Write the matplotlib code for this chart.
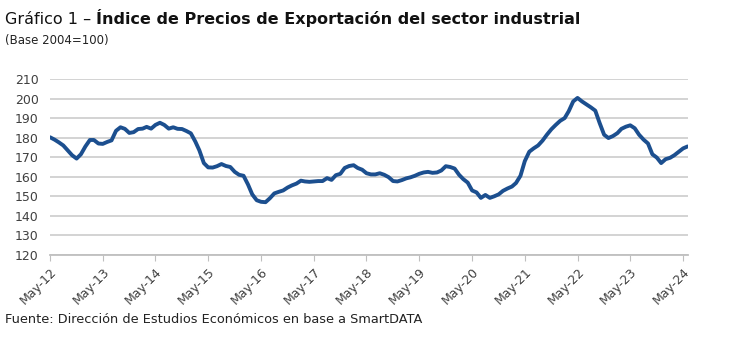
import pandas as pd
import matplotlib.pyplot as plt
import matplotlib.dates as mdates

plt.rcParams['font.family'] = ['DejaVu Sans']

# monthly index, May-2012 .. Jun-2024
start_month = "2012-05-01"
ipx_values = [
    180.2, 179.0, 177.6, 176.0, 173.5, 171.0, 169.3, 171.5, 175.5, 178.8,
    178.8, 177.0, 176.8, 177.8, 178.6, 183.5, 185.3, 184.5, 182.4, 182.8,
    184.4, 184.6, 185.5, 184.6, 186.5, 187.6, 186.5, 184.6, 185.3, 184.5,
    184.4, 183.4, 182.2, 178.0, 173.5, 167.0, 164.8, 164.7, 165.4, 166.5,
    165.5, 165.0, 162.5, 161.0, 160.5, 156.0, 151.0, 148.0, 147.2, 147.0,
    149.0, 151.5, 152.3, 153.0, 154.5, 155.6, 156.5, 158.0, 157.6, 157.4,
    157.6, 157.8, 157.8, 159.3, 158.4, 160.8, 161.5, 164.5, 165.5, 165.9,
    164.5, 163.6, 161.8, 161.2, 161.2, 161.8, 161.0, 159.8, 157.8, 157.6,
    158.3, 159.2, 159.7, 160.5, 161.5, 162.2, 162.5, 162.0, 162.2, 163.2,
    165.4, 165.0, 164.2, 161.0, 158.8, 157.0, 153.0, 152.0, 149.2, 150.7,
    149.2, 150.0, 151.0, 152.8, 154.0, 155.0, 156.8, 160.5, 168.0, 172.8,
    174.5, 176.0, 178.5, 181.5, 184.3, 186.5, 188.6, 190.0, 193.5, 198.5,
    200.3, 198.5, 197.0, 195.5, 193.8, 187.5, 181.5, 179.8, 180.8, 182.3,
    184.5, 185.6, 186.3, 184.8, 181.5, 179.0, 177.0, 171.5, 169.8, 167.0,
    169.0, 169.7, 171.0, 172.8, 174.5, 175.5,
]
y_ticks = list(range(120, 211, 10))

title_light = "Gráfico 1 – "
title_bold = "Índice de Precios de Exportación del sector industrial"
subtitle = "(Base 2004=100)"
source = "Fuente: Dirección de Estudios Económicos en base a SmartDATA"

dates = pd.date_range(start_month, periods=len(ipx_values), freq="MS")

fig = plt.figure(figsize=(7.3, 3.63), dpi=100)
ax = fig.add_axes([0.0685, 0.2975, 0.874, 0.485])

ax.plot(dates, ipx_values, color="#1c4f8f", lw=2.8, solid_capstyle="round")

ax.set_ylim(120, 210)
ax.set_yticks(y_ticks)
ax.set_xlim(dates[0], dates[-1] + pd.Timedelta(days=3))
ax.xaxis.set_major_locator(mdates.MonthLocator(bymonth=5))
ax.xaxis.set_major_formatter(mdates.DateFormatter("May-%y"))

ax.grid(axis="y", color="#d0d0d0", lw=1.3)
ax.set_axisbelow(True)
for s in ["left", "right", "top"]:
    ax.spines[s].set_visible(False)
ax.spines["bottom"].set_color("#bfbfbf")
ax.spines["bottom"].set_linewidth(1.3)
ax.tick_params(axis="y", length=0, labelsize=9, labelcolor="#404040", pad=8)
ax.tick_params(axis="x", length=4, color="#bfbfbf", labelsize=9, labelcolor="#404040")
plt.setp(ax.get_xticklabels(), rotation=45, ha="right", rotation_mode="anchor")

t1 = fig.text(0.007, 0.935, title_light, fontsize=11.5, color="#111111")
fig.canvas.draw()
bb = t1.get_window_extent()
fig.text(bb.x1 / fig.bbox.width, 0.935, title_bold, fontsize=11.5,
         fontweight="bold", color="#111111")
fig.text(0.007, 0.878, subtitle, fontsize=8.5, color="#222222")
fig.text(0.007, 0.11, source, fontsize=9.3, color="#222222")

fig.savefig("out.png", dpi=100)
